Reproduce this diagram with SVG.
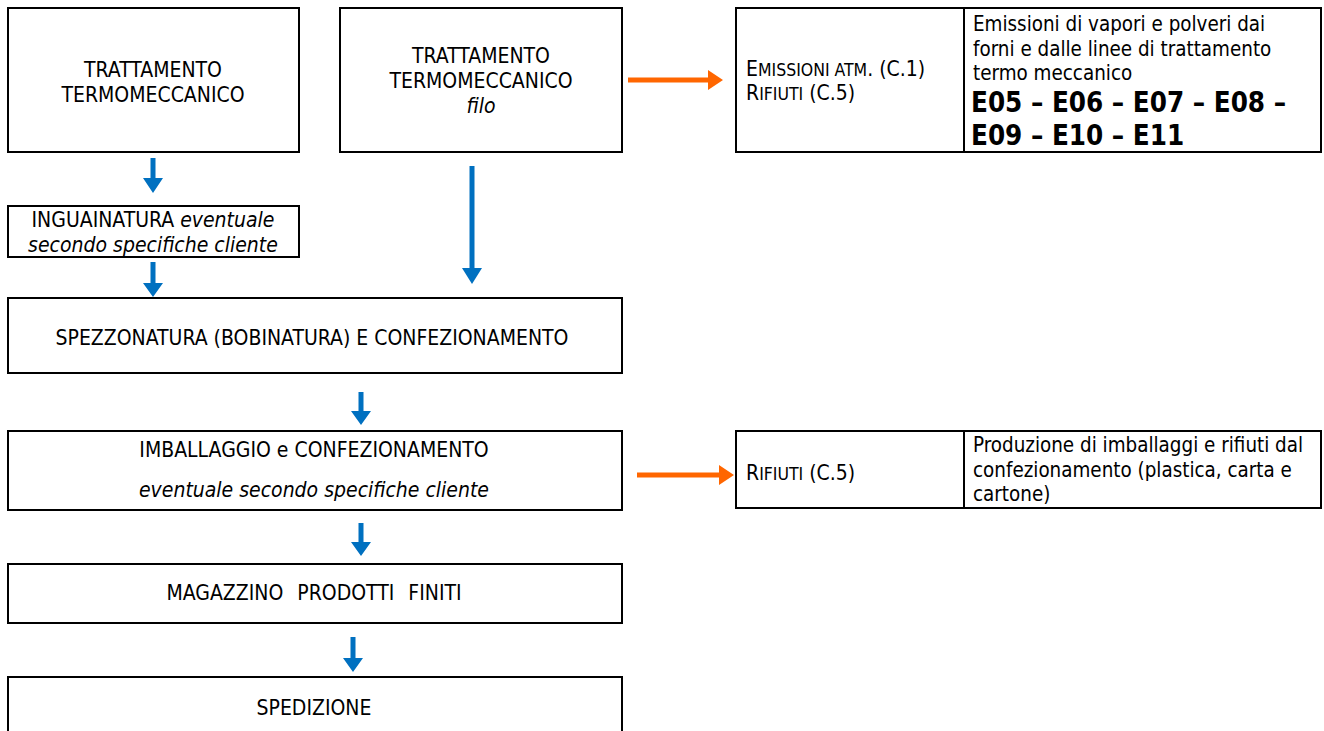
<svg xmlns="http://www.w3.org/2000/svg" width="1324" height="731" viewBox="0 0 1324 731">
<style>
.box{fill:#fff;stroke:#000;stroke-width:2}
.t{font-family:"DejaVu Sans Condensed","DejaVu Sans",sans-serif;font-size:21px;fill:#000}
.s{font-size:20.4px}
.c{text-anchor:middle}
.i{font-style:italic}
.sc{font-size:17.5px}
.b{font-weight:bold;font-size:27.5px}
.pre{white-space:pre;word-spacing:1px}
.blue{fill:#0070C0}
.orange{fill:#FF6600}
</style>
<rect width="1324" height="731" fill="#fff"/>
<g id="connectors">
<path class="blue" d="M150.5 158h5v20h7.5l-10 15l-10-15h7.5z"/>
<path class="blue" d="M150.5 262h5v21h7.5l-10 14l-10-14h7.5z"/>
<path class="blue" d="M469.5 166h5v102h7.5l-10 16l-10-16h7.5z"/>
<path class="blue" d="M358.5 392h5v19h7.5l-10 14l-10-14h7.5z"/>
<path class="blue" d="M358.5 523h5v19h7.5l-10 14l-10-14h7.5z"/>
<path class="blue" d="M350.5 637h5v21h7.5l-10 14l-10-14h7.5z"/>
<path class="orange" d="M628 77.5h80v-7.5l15 10l-15 10v-7.5h-80z"/>
<path class="orange" d="M637 472.5h82v-7.5l15 10l-15 10v-7.5h-82z"/>
</g>
<g id="n1">
<rect class="box" x="8" y="8" width="291" height="144"/>
<text class="t c" x="153" y="77">TRATTAMENTO</text>
<text class="t c" x="153" y="102">TERMOMECCANICO</text>
</g>
<g id="n2">
<rect class="box" x="340" y="8" width="282" height="144"/>
<text class="t c" x="481" y="63">TRATTAMENTO</text>
<text class="t c" x="481" y="88">TERMOMECCANICO</text>
<text class="t c i" x="481" y="113">filo</text>
</g>
<g id="n3">
<rect class="box" x="8" y="206" width="291" height="51"/>
<text class="t c" x="153" y="227">INGUAINATURA <tspan class="i">eventuale</tspan></text>
<text class="t c i" x="153" y="252">secondo specifiche cliente</text>
</g>
<g id="n4">
<rect class="box" x="8" y="298" width="614" height="75"/>
<text class="t c" x="312" y="345">SPEZZONATURA (BOBINATURA) E CONFEZIONAMENTO</text>
</g>
<g id="n5">
<rect class="box" x="8" y="431" width="614" height="79"/>
<text class="t c" x="314" y="457">IMBALLAGGIO e CONFEZIONAMENTO</text>
<text class="t c i" x="314" y="497">eventuale secondo specifiche cliente</text>
</g>
<g id="n6">
<rect class="box" x="8" y="564" width="614" height="59"/>
<text class="t c pre" x="314" y="600">MAGAZZINO  PRODOTTI  FINITI</text>
</g>
<g id="n7">
<rect class="box" x="8" y="677" width="614" height="60"/>
<text class="t c" x="314" y="715">SPEDIZIONE</text>
</g>
<g id="t1">
<rect class="box" x="736" y="8" width="585" height="144"/>
<line x1="964" y1="8" x2="964" y2="152" stroke="#000" stroke-width="2"/>
<text class="t" x="746" y="76">E<tspan class="sc">MISSIONI ATM</tspan>. (C.1)</text>
<text class="t" x="746" y="100">R<tspan class="sc">IFIUTI</tspan> (C.5)</text>
<text class="t s" x="973" y="31">Emissioni di vapori e polveri dai</text>
<text class="t s" x="973" y="56">forni e dalle linee di trattamento</text>
<text class="t s" x="973" y="80">termo meccanico</text>
<text class="t b" x="971" y="112">E05 – E06 – E07 – E08 –</text>
<text class="t b" x="971" y="145">E09 – E10 – E11</text>
</g>
<g id="t2">
<rect class="box" x="736" y="431" width="585" height="77"/>
<line x1="964" y1="431" x2="964" y2="508" stroke="#000" stroke-width="2"/>
<text class="t" x="746" y="480">R<tspan class="sc">IFIUTI</tspan> (C.5)</text>
<text class="t s" x="973" y="452">Produzione di imballaggi e rifiuti dal</text>
<text class="t s" x="973" y="477">confezionamento (plastica, carta e</text>
<text class="t s" x="973" y="501">cartone)</text>
</g>
</svg>
